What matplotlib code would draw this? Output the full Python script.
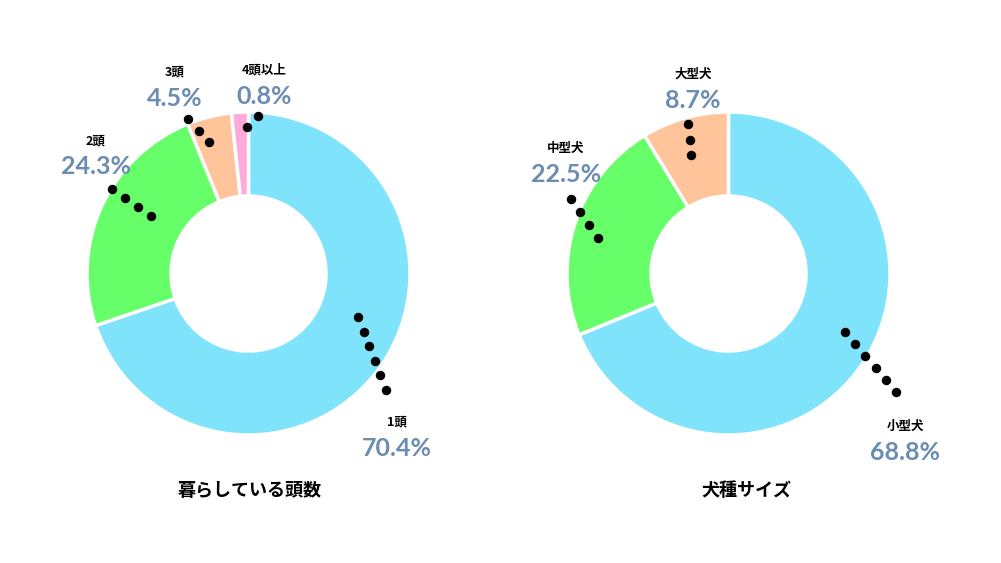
import matplotlib
matplotlib.use("Agg")
import matplotlib.pyplot as plt
import numpy as np

plt.rcParams['font.family'] = ['Noto Sans CJK JP', 'DejaVu Sans']

# ---- data ----
left_title = "暮らしている頭数"
left_labels = ["1頭", "2頭", "3頭", "4頭以上"]
left_values = [70.4, 24.3, 4.5, 0.8]

right_title = "犬種サイズ"
right_labels = ["小型犬", "中型犬", "大型犬"]
right_values = [68.8, 22.5, 8.7]

# ---- style ----
left_colors = ["#80E3FC", "#66FF6A", "#FFC49A", "#FFAADB"]
right_colors = ["#80E3FC", "#66FF6A", "#FFC49A"]
pct_color = "#6B8CB3"
MIN_VISIBLE_SHARE = 1.7  # tiny slices are drawn at least this wide for visibility

W, H = 1001, 563
fig = plt.figure(figsize=(W / 100, H / 100), dpi=100)
R = 161.5

# layout (pixel coords, y downward): text anchor, dot start, dot end, dot count
left_layout = [
    ((397, 422), (358, 317), (386, 390), 6),
    ((96, 141), (112, 189), (151, 216), 4),
    ((175, 72), (188, 119), (209, 142), 3),
    ((264, 70), (247, 127), (258, 116), 2),
]
right_layout = [
    ((905, 426), (845, 332), (896, 392), 6),
    ((566, 148), (571, 199), (598, 238), 4),
    ((693, 74), (688, 124), (691, 155), 3),
]


def donut(cx, cy, labels, values, colors, layout, title, title_x):
    ax = fig.add_axes([(cx - R) / W, (H - cy - R) / H, 2 * R / W, 2 * R / H])
    shown = [max(v, MIN_VISIBLE_SHARE) for v in values]
    ax.pie(shown, colors=colors, startangle=90, counterclock=False, radius=1,
           wedgeprops=dict(width=0.52, edgecolor="white", linewidth=2.5))
    ax.set_xlim(-1, 1)
    ax.set_ylim(-1, 1)
    ax.set_aspect("equal")
    ax.axis("off")

    def d(p):
        return ((p[0] - cx) / R, (cy - p[1]) / R)

    for lab, val, (txt, p0, p1, n) in zip(labels, values, layout):
        a, b = d(p0), d(p1)
        xs = np.linspace(a[0], b[0], n)
        ys = np.linspace(a[1], b[1], n)
        ax.plot(xs, ys, "o", color="black", markersize=5.8, clip_on=False, zorder=5)
        tx, ty = d(txt)
        ax.text(tx, ty, lab, ha="center", va="center", fontsize=9,
                fontweight="bold", color="black", clip_on=False)
        ty2 = ty - 26 / R
        ax.text(tx, ty2, f"{val:.1f}%", ha="center", va="center", fontsize=18,
                color=pct_color, family=["Lato", "DejaVu Sans"], fontweight="bold",
                clip_on=False)
    ax.text((title_x - cx) / R, (cy - 491) / R, title, ha="center", va="center",
            fontsize=13, fontweight="bold", color="black", clip_on=False)
    return ax


donut(248.5, 273.5, left_labels, left_values, left_colors, left_layout, left_title, 250)
donut(728.5, 273.5, right_labels, right_values, right_colors, right_layout, right_title, 746)

fig.savefig("out.png", dpi=100)
